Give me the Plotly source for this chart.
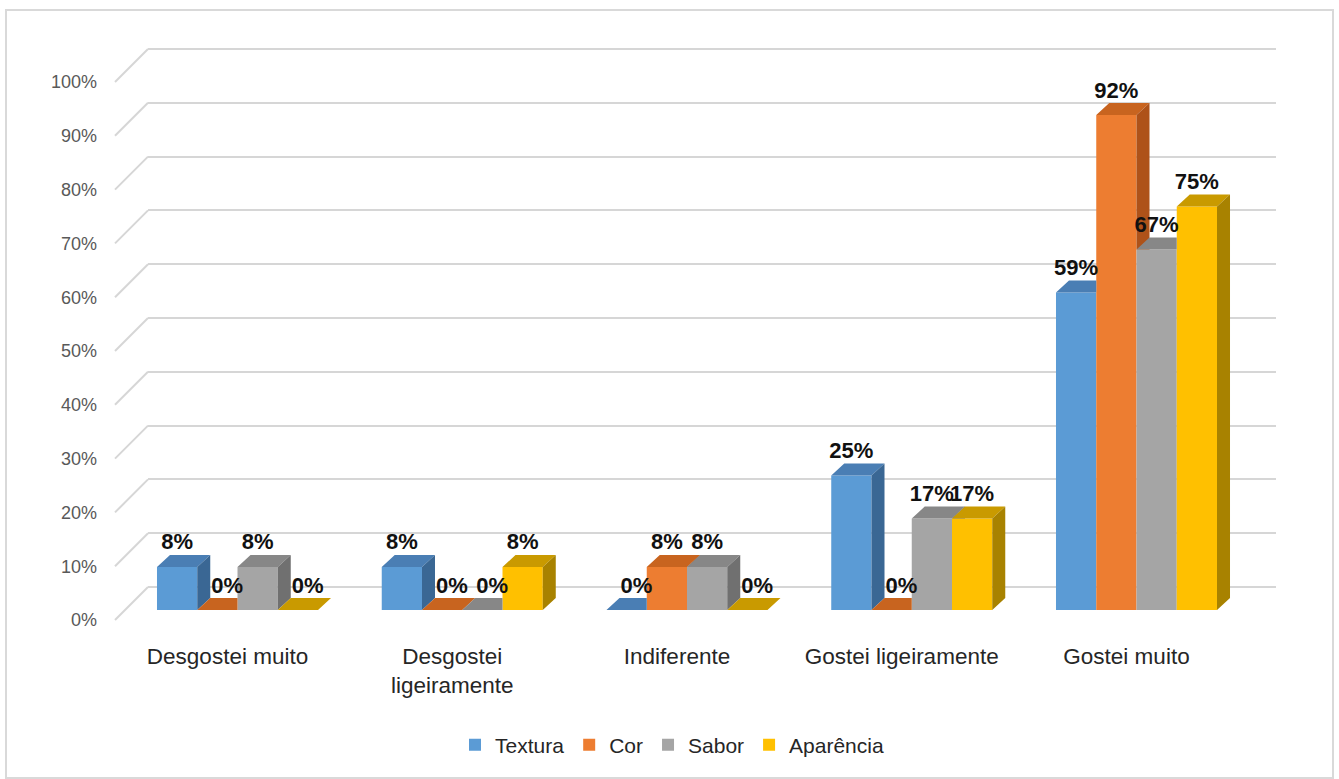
import plotly.graph_objects as go

# ---- data -------------------------------------------------------------
categories = ["Desgostei muito", "Desgostei<br>ligeiramente", "Indiferente",
              "Gostei ligeiramente", "Gostei muito"]
series_names = ["Textura", "Cor", "Sabor", "Aparência"]
textura = [8, 8, 0, 25, 59]
cor = [0, 0, 8, 0, 92]
sabor = [8, 0, 8, 17, 67]
aparencia = [0, 8, 0, 17, 75]
y_ticks = [0, 10, 20, 30, 40, 50, 60, 70, 80, 90, 100]

values = [textura, cor, sabor, aparencia]

# ---- styling ----------------------------------------------------------
front_colors = ["#5B9BD5", "#ED7D31", "#A5A5A5", "#FFC000"]
top_colors = ["#4A7EB4", "#C8641F", "#878787", "#C99A00"]
side_colors = ["#3A6794", "#AE5219", "#707070", "#A88200"]
GRID = "#d6d6d6"

W, H = 1339, 779

# pixel geometry of the pseudo-3D layout
PX_PER_PCT = 5.38      # vertical pixels per percentage point
BAR_BASE_Y = 610       # front base of the columns
LABEL_BASE_Y = 620     # 0% tick label level
WALL_BASE_Y = 587      # 0% line on the back wall
GROUP0_X = 237.5       # centre of the first category
GROUP_STEP = 224.75    # distance between categories
DEPTH_DX, DEPTH_DY = 13, 12
BARGAP = 0.2836
WALL_X0, WALL_X1 = 148, 1276
TICK_X = 97
LINK_X0 = 115


def y_range(base):
    return [(base - H) / PX_PER_PCT, base / PX_PER_PCT]


x_range = [(0 - GROUP0_X) / GROUP_STEP, (W - GROUP0_X) / GROUP_STEP]
ddx = DEPTH_DX / GROUP_STEP
ddy = DEPTH_DY / PX_PER_PCT
n_series = len(values)
bw = (1 - BARGAP) / n_series


def clip_half(poly, a, b, c):
    """Keep the part of a convex polygon where a*x + b*y <= c."""
    out = []
    n = len(poly)
    for i in range(n):
        p, q = poly[i], poly[(i + 1) % n]
        fp = a * p[0] + b * p[1] - c
        fq = a * q[0] + b * q[1] - c
        if fp <= 0:
            out.append(p)
        if (fp < 0 < fq) or (fq < 0 < fp):
            t = fp / (fp - fq)
            out.append((p[0] + t * (q[0] - p[0]), p[1] + t * (q[1] - p[1])))
    return out


def area(poly):
    s = 0.0
    for i in range(len(poly)):
        x0, y0 = poly[i]
        x1, y1 = poly[(i + 1) % len(poly)]
        s += x0 * y1 - x1 * y0
    return abs(s) / 2


def add_poly(xs, ys, poly):
    if len(poly) < 3 or area(poly) < 1e-9:
        return
    for px, py in poly + [poly[0]]:
        xs.append(px)
        ys.append(py)
    xs.append(None)
    ys.append(None)


fig = go.Figure()

# back-wall subplot (gridlines only)
fig.add_trace(go.Scatter(x=[None], y=[None], xaxis="x", yaxis="y",
                         showlegend=False, hoverinfo="skip"))

# front faces of the columns
for j, name in enumerate(series_names):
    fig.add_trace(go.Bar(
        x=list(range(len(categories))), y=values[j], name=name,
        marker=dict(color=front_colors[j], line=dict(width=0)),
        xaxis="x2", yaxis="y2", hoverinfo="skip",
    ))

# top and side faces, painted left to right inside each category
label_traces = []
for j in range(n_series):
    tx, ty, sx, sy = [], [], [], []
    lx, ly, lt = [], [], []
    for c in range(len(categories)):
        v = values[j][c]
        xc = c + (j - (n_series - 1) / 2) * bw
        x0, x1 = xc - bw / 2, xc + bw / 2
        u = values[j + 1][c] if j + 1 < n_series else None

        top = [(x0, v), (x1, v), (x1 + ddx, v + ddy), (x0 + ddx, v + ddy)]
        if u is not None and u > v:
            add_poly(tx, ty, clip_half(top, 1, 0, x1))
            add_poly(tx, ty, clip_half(clip_half(top, -1, 0, -x1), 0, -1, -u))
        else:
            add_poly(tx, ty, top)

        if v > 0:
            side = [(x1, 0), (x1 + ddx, ddy), (x1 + ddx, v + ddy), (x1, v)]
            if u is not None and u > 0:
                side = clip_half(side, 0, -1, -u)
            add_poly(sx, sy, side)

        lx.append(xc + (0.75 * ddx if v == 0 else 0))
        ly.append(v + ddy)
        lt.append(f"<b>{v}%</b>")

    fig.add_trace(go.Scatter(x=tx, y=ty, fill="toself", mode="lines",
                             line=dict(width=0), fillcolor=top_colors[j],
                             xaxis="x2", yaxis="y2", showlegend=False,
                             hoverinfo="skip"))
    fig.add_trace(go.Scatter(x=sx, y=sy, fill="toself", mode="lines",
                             line=dict(width=0), fillcolor=side_colors[j],
                             xaxis="x2", yaxis="y2", showlegend=False,
                             hoverinfo="skip"))
    label_traces.append(go.Scatter(
        x=lx, y=ly, text=lt, mode="text", textposition="top center",
        textfont=dict(family="Liberation Sans, Arial", size=22, color="#111111"),
        xaxis="x2", yaxis="y2", showlegend=False, hoverinfo="skip",
        cliponaxis=False,
    ))

for tr in label_traces:
    fig.add_trace(tr)

# diagonal links from the tick labels to the back wall
shapes = []
offset_units = (LABEL_BASE_Y - WALL_BASE_Y) / PX_PER_PCT
for t in y_ticks:
    shapes.append(dict(type="line", xref="paper", yref="y",
                       x0=LINK_X0 / W, y0=t - offset_units,
                       x1=WALL_X0 / W, y1=t,
                       line=dict(color=GRID, width=2), layer="below"))
# chart border
shapes.append(dict(type="rect", xref="paper", yref="paper",
                   x0=6 / W, y0=1 / H, x1=1333 / W, y1=(H - 10) / H,
                   line=dict(color="#d9d9d9", width=2), layer="below"))

fig.update_layout(
    width=W, height=H,
    margin=dict(l=0, r=0, t=0, b=0),
    paper_bgcolor="white",
    plot_bgcolor="rgba(0,0,0,0)",
    barmode="group", bargap=BARGAP, bargroupgap=0,
    shapes=shapes,
    showlegend=True,
    legend=dict(orientation="h", x=672 / W, xanchor="center",
                y=(H - 745) / H, yanchor="middle",
                font=dict(family="Liberation Sans, Arial", size=21,
                          color="#262626"),
                bgcolor="rgba(0,0,0,0)", itemwidth=30, traceorder="normal"),
    xaxis=dict(domain=[WALL_X0 / W, WALL_X1 / W], range=[0, 1],
               visible=False, anchor="y", fixedrange=True),
    yaxis=dict(domain=[0, 1], range=y_range(WALL_BASE_Y), anchor="x",
               tickvals=y_ticks, showticklabels=False, ticks="",
               showgrid=True, gridcolor=GRID, gridwidth=2,
               zeroline=False, showline=False, fixedrange=True),
    xaxis2=dict(domain=[0, 1], range=x_range, anchor="free",
                position=(H - 640) / H,
                tickvals=list(range(len(categories))), ticktext=categories,
                ticklabelshift=-10, ticks="", showgrid=False,
                zeroline=False, showline=False, automargin=False,
                tickfont=dict(family="Liberation Sans, Arial", size=22.5,
                              color="#262626"),
                fixedrange=True),
    yaxis2=dict(domain=[0, 1], range=y_range(BAR_BASE_Y), anchor="free",
                position=TICK_X / W, tickvals=y_ticks,
                ticktext=[f"{t}%" for t in y_ticks],
                ticklabelshift=LABEL_BASE_Y - BAR_BASE_Y,
                ticks="", showgrid=False, zeroline=False, showline=False,
                automargin=False,
                tickfont=dict(family="Liberation Sans, Arial",
                              size=18, color="#595959"),
                fixedrange=True),
)

fig.write_html("out.html")
